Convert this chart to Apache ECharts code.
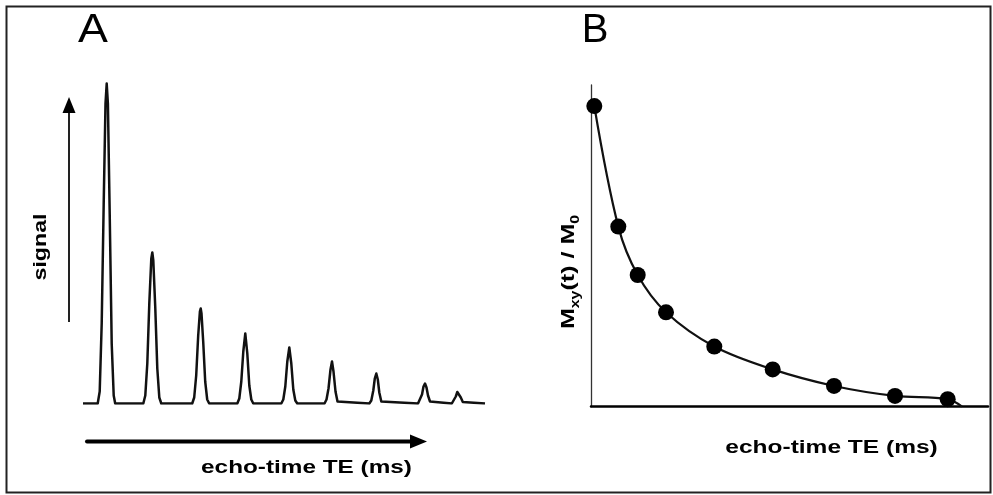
<!DOCTYPE html>
<html>
<head>
<meta charset="utf-8">
<script src="https://cdn.jsdelivr.net/npm/echarts@6/dist/echarts.min.js"></script>
<style>
  html, body { margin: 0; padding: 0; background: #fff; }
  #chart { width: 993px; height: 495px; }
</style>
</head>
<body>
<div id="chart"></div>
<script>
// ---------- Panel A: echo train (signal vs echo-time) ----------
var traceTE = [
  0,
  14.7, 16.7, 18.7, 20.7, 22.5, 23.7, 24.9, 26.7, 28.7, 30.7, 32.2,
  60.3, 62.3, 64.3, 66.3, 68.3, 69.3, 70.3, 72.3, 74.3, 76.3, 78.3,
  109.2, 111.2, 113.2, 115.2, 116.9, 117.7, 118.5, 120.2, 122.2, 124.2, 126.2,
  154.3, 156.3, 158.3, 160.3, 162.3, 164.3, 166.3, 168.3, 170.3,
  198.3, 200.3, 202.3, 204.3, 206.3, 208.3, 210.3, 212.3, 214.3,
  241.5, 243.5, 245.5, 247.5, 249.0, 250.5, 252.5, 254.5, 256.5,
  286.3, 288.3, 290.3, 291.8, 293.3, 294.8, 296.3, 298.3, 300.3,
  335.0, 337.0, 339.0, 340.5, 342.0, 343.5, 345.0, 347.0, 349.0,
  368.8, 370.8, 372.8, 374.3, 375.3, 376.3, 377.8, 379.8, 381.8,
  402
];
var traceSignal = [
  0,
  0, 12, 80, 200, 300, 320, 300, 190, 60, 8, 0,
  0, 8, 40, 100, 145, 151, 143, 95, 35, 6, 0,
  0, 6, 28, 68, 92, 95, 90, 62, 22, 4, 0,
  0, 5, 22, 52, 70, 50, 18, 4, 0,
  0, 4, 17, 42, 56, 40, 14, 3, 0,
  0, 4, 15, 34, 42, 32, 12, 2, 0,
  0, 3, 13, 25, 30, 24, 11, 2, 0,
  0, 2, 9, 17, 20, 16, 8, 2, 0,
  0, 2, 7, 11.5, 12.5, 11, 6, 1.5, 0,
  0
];
var axisA = { teMax: 402, signalMax: 330 };

// ---------- Panel B: Mxy(t)/M0 decay points and fitted curve ----------
var echoTE = [3.3, 27.3, 46.7, 75.0, 123.3, 181.7, 243.0, 304.0, 356.7];
var mxyRatio = [1.0, 0.599, 0.438, 0.314, 0.200, 0.124, 0.069, 0.036, 0.025];
var fitEnd = [371, 0];
var axisB = { teMax: 397, ratioMax: 1.07 };

// ---------- Texts ----------
var panelLabels = ['A', 'B'];
var xTitle = 'echo-time TE (ms)';
var yTitleA = 'signal';

function pairs(xs, ys) { return xs.map(function (x, i) { return [x, ys[i]]; }); }
var fitData = pairs(echoTE, mxyRatio).concat([fitEnd]);

var boldFont = 'bold 19px "Liberation Sans", Arial, sans-serif';

var chart = echarts.init(document.getElementById('chart'), null, { renderer: 'canvas' });
chart.setOption({
  backgroundColor: '#ffffff',
  animation: false,
  grid: [
    { left: 83, top: 73.5, width: 402, height: 330 },
    { left: 591, top: 85, width: 397, height: 321.7 }
  ],
  xAxis: [
    { gridIndex: 0, type: 'value', min: 0, max: axisA.teMax, show: false },
    { gridIndex: 1, type: 'value', min: 0, max: axisB.teMax,
      axisLine: { show: true, lineStyle: { color: '#000', width: 2.5 } },
      axisTick: { show: false }, axisLabel: { show: false }, splitLine: { show: false } }
  ],
  yAxis: [
    { gridIndex: 0, type: 'value', min: 0, max: axisA.signalMax, show: false },
    { gridIndex: 1, type: 'value', min: 0, max: axisB.ratioMax,
      axisLine: { show: true, onZero: false, lineStyle: { color: '#333', width: 1.3 } },
      axisTick: { show: false }, axisLabel: { show: false }, splitLine: { show: false } }
  ],
  series: [
    { type: 'line', xAxisIndex: 0, yAxisIndex: 0, data: pairs(traceTE, traceSignal),
      showSymbol: false, lineStyle: { color: '#111', width: 2.5, join: 'round' }, z: 3 },
    { type: 'line', xAxisIndex: 1, yAxisIndex: 1, data: fitData, smooth: 0.35,
      showSymbol: false, lineStyle: { color: '#111', width: 2.2 }, z: 3 },
    { type: 'scatter', xAxisIndex: 1, yAxisIndex: 1, data: pairs(echoTE, mxyRatio),
      symbol: 'circle', symbolSize: 16, itemStyle: { color: '#000', opacity: 1 }, z: 4 }
  ],
  graphic: [
    // frame
    { type: 'rect', shape: { x: 6.5, y: 6.5, width: 984, height: 486 },
      style: { fill: null, stroke: '#222', lineWidth: 2 }, z: 1 },
    // panel labels
    { type: 'text', x: 93, y: 31, scaleX: 1.12,
      style: { text: panelLabels[0], font: '40px "Liberation Sans", Arial, sans-serif', fill: '#000',
               align: 'center', verticalAlign: 'middle', textAlign: 'center', textVerticalAlign: 'middle' } },
    { type: 'text', x: 595, y: 31, scaleX: 1.0,
      style: { text: panelLabels[1], font: '40px "Liberation Sans", Arial, sans-serif', fill: '#000',
               align: 'center', verticalAlign: 'middle', textAlign: 'center', textVerticalAlign: 'middle' } },
    // panel A arrows
    { type: 'line', shape: { x1: 69, y1: 322, x2: 69, y2: 108 },
      style: { stroke: '#222', lineWidth: 2 } },
    { type: 'polygon', shape: { points: [[69, 97], [62.5, 113], [75.5, 113]] },
      style: { fill: '#000' } },
    { type: 'line', shape: { x1: 87, y1: 441.5, x2: 414, y2: 441.5 },
      style: { stroke: '#000', lineWidth: 4, lineCap: 'round' } },
    { type: 'polygon', shape: { points: [[427, 441.5], [410, 434.5], [410, 448.5]] },
      style: { fill: '#000' } },
    // axis titles
    { type: 'text', x: 41, y: 247, rotation: Math.PI / 2, scaleX: 1.22,
      style: { text: yTitleA, font: boldFont, fill: '#000',
               align: 'center', verticalAlign: 'middle', textAlign: 'center', textVerticalAlign: 'middle' } },
    { type: 'text', x: 306.5, y: 468, scaleX: 1.28,
      style: { text: xTitle, font: boldFont, fill: '#000',
               align: 'center', verticalAlign: 'middle', textAlign: 'center', textVerticalAlign: 'middle' } },
    { type: 'text', x: 831.5, y: 448, scaleX: 1.29,
      style: { text: xTitle, font: boldFont, fill: '#000',
               align: 'center', verticalAlign: 'middle', textAlign: 'center', textVerticalAlign: 'middle' } },
    { type: 'text', x: 569, y: 272, rotation: Math.PI / 2, scaleX: 1.32,
      style: { text: '{m|M}{s|xy}{m|(t) / M}{s|0}',
               align: 'center', verticalAlign: 'middle', textAlign: 'center', textVerticalAlign: 'middle',
               rich: {
                 m: { font: boldFont, fill: '#000', lineHeight: 25, verticalAlign: 'middle' },
                 s: { font: 'bold 12px "Liberation Sans", Arial, sans-serif', fill: '#000', lineHeight: 12, verticalAlign: 'bottom' }
               } } }
  ]
});
</script>
</body>
</html>
